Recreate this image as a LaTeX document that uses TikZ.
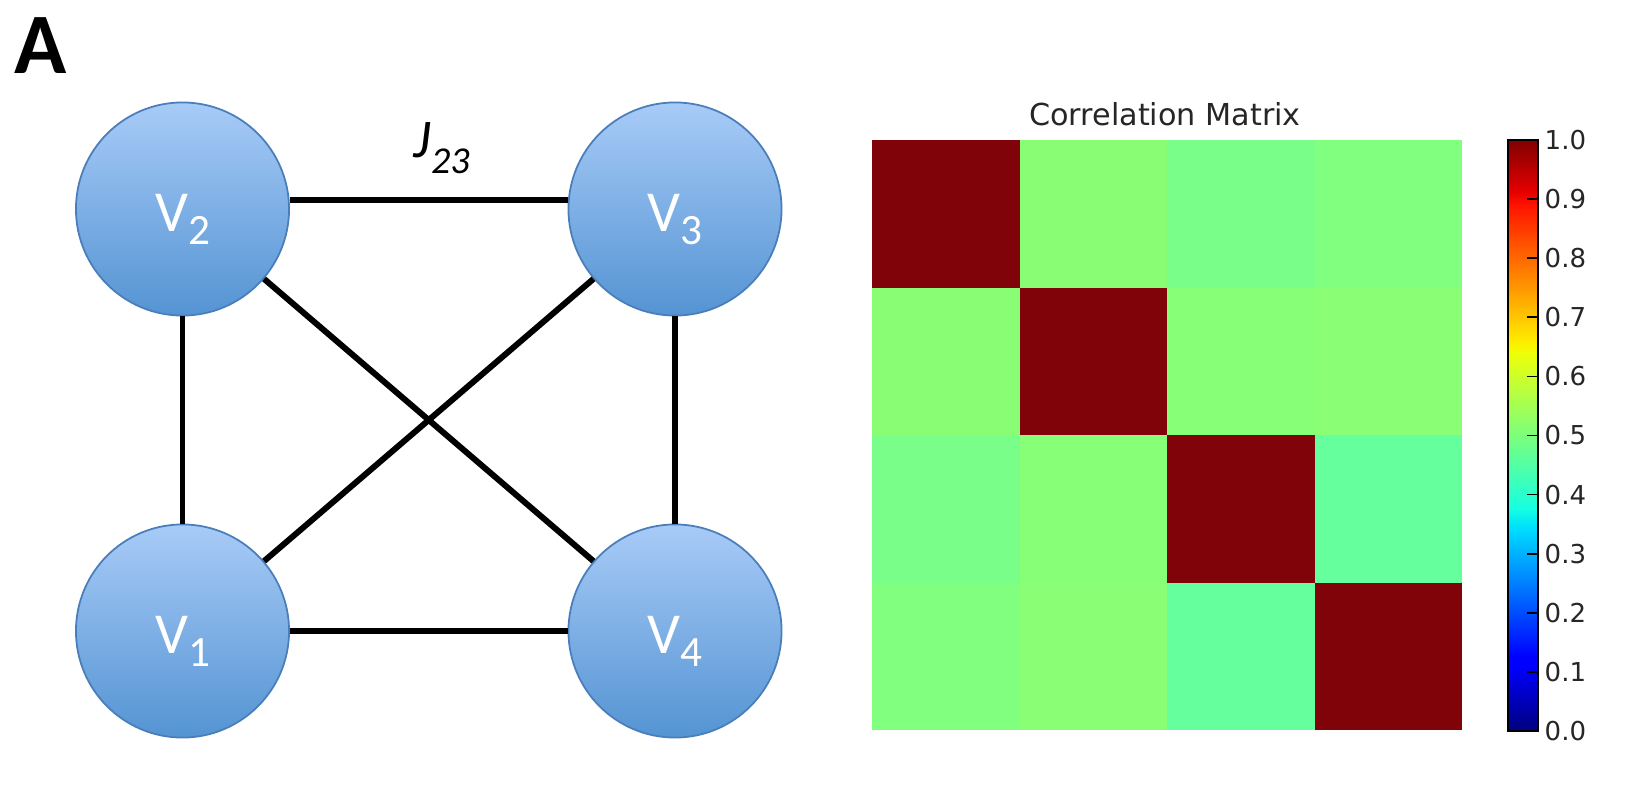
\documentclass[tikz,border=0pt]{standalone}
\usepackage{fontspec}
\setmainfont{Carlito}
\newfontfamily\mplfont{DejaVu Sans}
\usepackage{xcolor}
\usepackage{tikz}

\definecolor{nodetop}{RGB}{168,203,247}
\definecolor{nodebot}{RGB}{84,148,211}
\definecolor{nodeedge}{RGB}{74,126,187}
\definecolor{cdiag}{RGB}{127,3,8}
\definecolor{cab}{HTML}{89FE75}
\definecolor{cac}{HTML}{79FE89}
\definecolor{cad}{HTML}{81FF7F}
\definecolor{cbc}{HTML}{87FF77}
\definecolor{cbd}{HTML}{8AFF75}
\definecolor{ccd}{HTML}{66FF9E}
\definecolor{jeta}{rgb}{0,0,0.5}
\definecolor{jetb}{rgb}{0,0,1}
\definecolor{jetc}{rgb}{0,0,1}
\definecolor{jetd}{rgb}{0,0.86,1}
\definecolor{jete}{rgb}{0,0.9,0.968}
\definecolor{jetf}{rgb}{0.081,1,0.887}
\definecolor{jetg}{rgb}{0.935,1,0.032}
\definecolor{jeth}{rgb}{0.968,0.963,0}
\definecolor{jeti}{rgb}{1,0.926,0}
\definecolor{jetj}{rgb}{1,0.074,0}
\definecolor{jetk}{rgb}{0.909,0,0}
\definecolor{jetl}{rgb}{0.5,0,0}

\newcommand\vsub[1]{\raisebox{-3.7pt}{\fontsize{12.3}{14}\selectfont #1}}

\begin{document}
\begin{tikzpicture}[
x=0.01cm,y=-0.01cm,
vnode/.style={circle,draw=nodeedge,line width=0.5pt,top color=nodetop,bottom color=nodebot,minimum size=2.13cm,inner sep=0pt,text=white,font=\fontsize{16.5}{19}\selectfont,text height=13pt,text depth=0pt},
bond/.style={black,line width=1.7pt},
ticklab/.style={anchor=west,inner sep=0pt,font=\mplfont\fontsize{7.4}{9}\selectfont,text=black!85},
cbar/.style={draw=black,line width=0.6pt}
]
\useasboundingbox (0,0) rectangle (1636,790);

\node[anchor=base west,inner sep=0pt,font=\fontsize{24.5}{28}\selectfont\bfseries] (panel) at (14,73) {A};

\node[vnode] (v2) at (182.5,209) {V\vsub{2}};
\node[vnode] (v3) at (675,209) {V\vsub{3}};
\node[vnode] (v1) at (182.5,631) {V\vsub{1}};
\node[vnode] (v4) at (675,631) {V\vsub{4}};

\draw[bond] (v2.5) -- (v3.175);
\draw[bond] (v1) -- (v4);
\draw[bond] (v2) -- (v1);
\draw[bond] (v3) -- (v4);
\draw[bond] (v2) -- (v4);
\draw[bond] (v3) -- (v1);
\node[anchor=base west,inner sep=0pt,font=\fontsize{15.5}{18}\selectfont\itshape] (jlab) at (413,157) {J\raisebox{-4.7pt}{\fontsize{10.8}{12}\selectfont 23}};

\node[anchor=base,inner sep=0pt,font=\mplfont\fontsize{8.6}{10}\selectfont,text=black!85] (title) at (1165,125) {Correlation Matrix};
\foreach \r/\c/\col in {0/0/cdiag,0/1/cab,0/2/cac,0/3/cad,
                        1/0/cab,1/1/cdiag,1/2/cbc,1/3/cbd,
                        2/0/cac,2/1/cbc,2/2/cdiag,2/3/ccd,
                        3/0/cad,3/1/cbd,3/2/ccd,3/3/cdiag}
  \fill[\col] ({872+\c*147.5},{140+\r*147.5}) rectangle ++(147.5,147.5);

\foreach \a/\b/\ca/\cb in {0/0.11/jeta/jetb,0.11/0.125/jetb/jetc,0.125/0.34/jetc/jetd,
                           0.34/0.35/jetd/jete,0.35/0.375/jete/jetf,0.375/0.64/jetf/jetg,
                           0.64/0.65/jetg/jeth,0.65/0.66/jeth/jeti,0.66/0.89/jeti/jetj,
                           0.89/0.91/jetj/jetk,0.91/1/jetk/jetl}
  \shade[bottom color=\ca,top color=\cb] (1508,{731-\a*591}) rectangle (1538,{731-\b*591-0.5});
\draw[cbar] (1508,140) rectangle (1538,731);
\foreach \k in {1,...,9}
  \draw[black,line width=0.5pt] (1538,{731-\k*59.1}) -- ++(-11,0);
\foreach \k/\t in {0/0.0,1/0.1,2/0.2,3/0.3,4/0.4,5/0.5,6/0.6,7/0.7,8/0.8,9/0.9,10/1.0}
  \node[ticklab] (t\k) at (1544,{731-\k*59.1}) {\t};
\end{tikzpicture}
\end{document}
